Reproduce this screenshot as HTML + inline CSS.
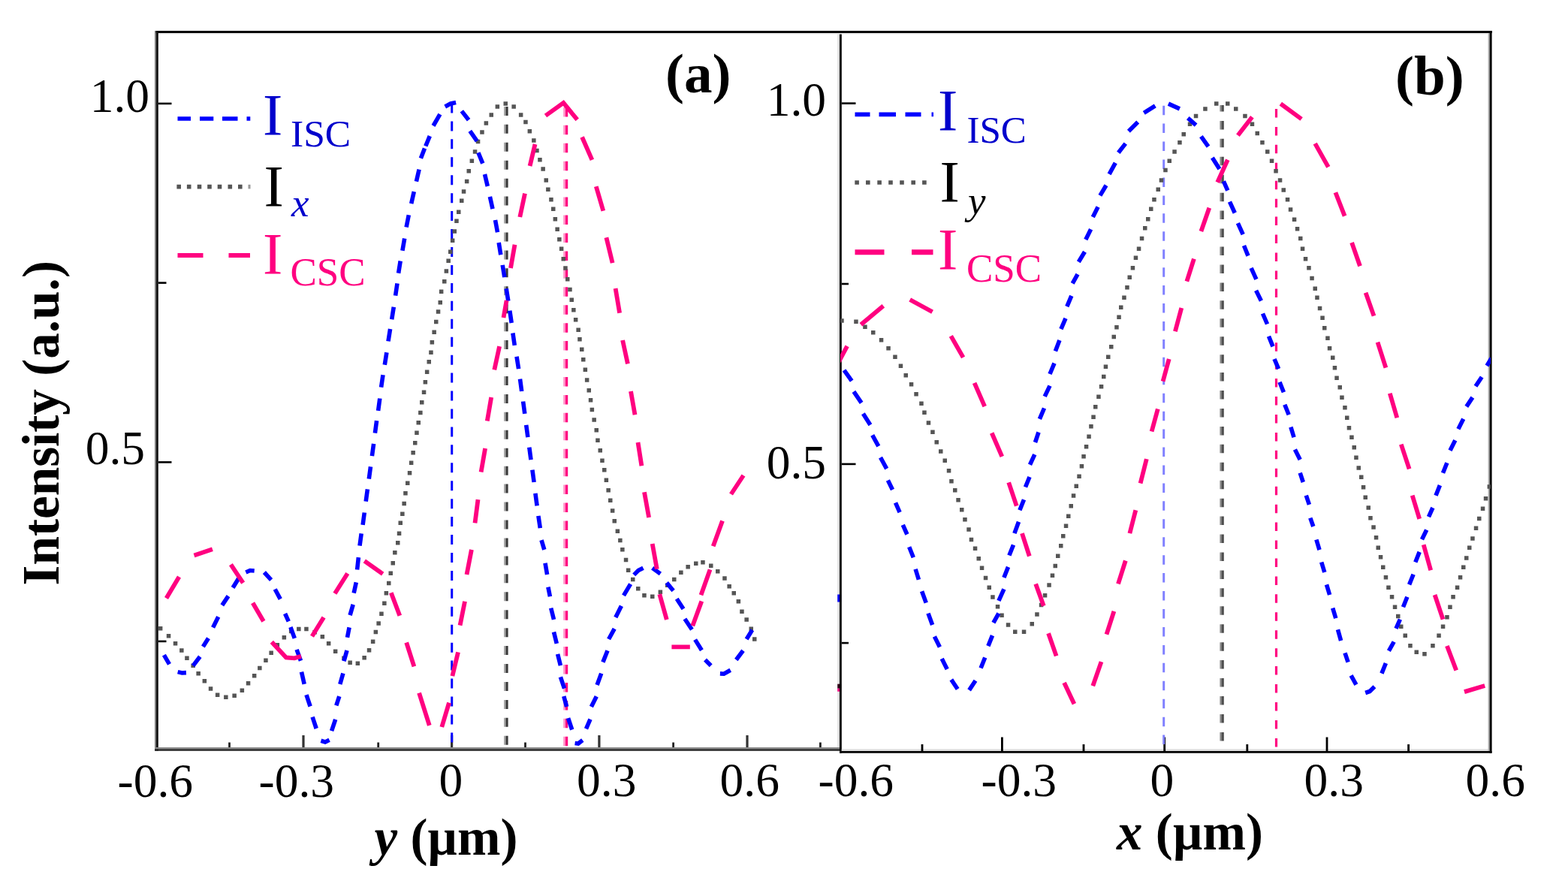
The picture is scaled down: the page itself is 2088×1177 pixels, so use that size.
<!DOCTYPE html>
<html><head><meta charset="utf-8"><title>Intensity profiles</title>
<style>html,body{margin:0;padding:0;background:#fff;}svg{display:block;}</style>
</head><body>
<svg width="2088" height="1177" viewBox="0 0 2088 1177">
<defs><clipPath id="cb"><rect x="1119" y="40" width="866" height="962"/></clipPath><clipPath id="ca"><rect x="209" y="40" width="910" height="958"/></clipPath></defs>
<rect width="2088" height="1177" fill="#fff"/>
<rect x="206" y="41" width="1781" height="3" fill="#000"/>
<rect x="206" y="41" width="1.8" height="959" fill="#808080"/>
<rect x="207.8" y="41" width="3" height="959" fill="#111"/>
<rect x="206" y="995" width="912" height="2.2" fill="#8a8a8a"/>
<rect x="206" y="997.2" width="912" height="2.6" fill="#2a2a2a"/>
<rect x="1115.4" y="44" width="2.6" height="951" fill="#dcdcdc"/>
<rect x="1118" y="41" width="2.8" height="961.7" fill="#000"/>
<rect x="1120.8" y="997.4" width="862" height="2.6" fill="#dcdcdc"/>
<rect x="1118" y="1000" width="868.5" height="2.7" fill="#000"/>
<rect x="1981.6" y="44" width="2" height="956" fill="#b0b0b0"/>
<rect x="1983.6" y="41" width="3" height="961.7" fill="#000"/>
<rect x="211" y="44" width="1770" height="1.6" fill="#e6e6e6"/>
<line x1="210.8" y1="137.9" x2="228.5" y2="137.9" stroke="#000" stroke-width="2.6"/>
<line x1="210.8" y1="376.6" x2="221.5" y2="376.6" stroke="#000" stroke-width="2.6"/>
<line x1="210.8" y1="615.4" x2="228.5" y2="615.4" stroke="#000" stroke-width="2.6"/>
<line x1="210.8" y1="853.9" x2="221.5" y2="853.9" stroke="#000" stroke-width="2.6"/>
<line x1="1120.8" y1="137.6" x2="1139.5" y2="137.6" stroke="#000" stroke-width="2.6"/>
<line x1="1120.8" y1="378" x2="1130" y2="378" stroke="#000" stroke-width="2.6"/>
<line x1="1120.8" y1="617.9" x2="1139.5" y2="617.9" stroke="#000" stroke-width="2.6"/>
<line x1="1120.8" y1="856.1" x2="1130" y2="856.1" stroke="#000" stroke-width="2.6"/>
<line x1="404" y1="979" x2="404" y2="995" stroke="#333" stroke-width="3.2"/>
<line x1="601.6" y1="979" x2="601.6" y2="995" stroke="#333" stroke-width="3.2"/>
<line x1="797.9" y1="979" x2="797.9" y2="995" stroke="#333" stroke-width="3.2"/>
<line x1="995" y1="979" x2="995" y2="995" stroke="#333" stroke-width="3.2"/>
<line x1="305.5" y1="988.5" x2="305.5" y2="995" stroke="#222" stroke-width="2.8"/>
<line x1="503.7" y1="988.5" x2="503.7" y2="995" stroke="#222" stroke-width="2.8"/>
<line x1="699.5" y1="988.5" x2="699.5" y2="995" stroke="#222" stroke-width="2.8"/>
<line x1="896.6" y1="988.5" x2="896.6" y2="995" stroke="#222" stroke-width="2.8"/>
<line x1="1092.4" y1="988.5" x2="1092.4" y2="995" stroke="#222" stroke-width="2.8"/>
<line x1="1334.4" y1="981.5" x2="1334.4" y2="1000" stroke="#000" stroke-width="2.8"/>
<line x1="1550.7" y1="981.5" x2="1550.7" y2="1000" stroke="#000" stroke-width="2.8"/>
<line x1="1767" y1="981.5" x2="1767" y2="1000" stroke="#000" stroke-width="2.8"/>
<line x1="1228" y1="991" x2="1228" y2="1000" stroke="#000" stroke-width="2.8"/>
<line x1="1443" y1="991" x2="1443" y2="1000" stroke="#000" stroke-width="2.8"/>
<line x1="1660.8" y1="991" x2="1660.8" y2="1000" stroke="#000" stroke-width="2.8"/>
<line x1="1875.6" y1="991" x2="1875.6" y2="1000" stroke="#000" stroke-width="2.8"/>
<text x="199" y="149" font-family="Liberation Serif, serif" font-size="63.5" text-anchor="end" font-weight="normal" font-style="normal" fill="#000" >1.0</text>
<text x="193" y="618" font-family="Liberation Serif, serif" font-size="63.5" text-anchor="end" font-weight="normal" font-style="normal" fill="#000" >0.5</text>
<text x="1100" y="154" font-family="Liberation Serif, serif" font-size="63.5" text-anchor="end" font-weight="normal" font-style="normal" fill="#000" >1.0</text>
<text x="1100" y="636.5" font-family="Liberation Serif, serif" font-size="63.5" text-anchor="end" font-weight="normal" font-style="normal" fill="#000" >0.5</text>
<text x="156.5" y="1061" font-family="Liberation Serif, serif" font-size="63.5" text-anchor="start" font-weight="normal" font-style="normal" fill="#000" >-0.6</text>
<text x="344.5" y="1061" font-family="Liberation Serif, serif" font-size="63.5" text-anchor="start" font-weight="normal" font-style="normal" fill="#000" >-0.3</text>
<text x="584.5" y="1060" font-family="Liberation Serif, serif" font-size="63.5" text-anchor="start" font-weight="normal" font-style="normal" fill="#000" >0</text>
<text x="768" y="1060" font-family="Liberation Serif, serif" font-size="63.5" text-anchor="start" font-weight="normal" font-style="normal" fill="#000" >0.3</text>
<text x="958.5" y="1060" font-family="Liberation Serif, serif" font-size="63.5" text-anchor="start" font-weight="normal" font-style="normal" fill="#000" >0.6</text>
<text x="1089.5" y="1060" font-family="Liberation Serif, serif" font-size="63.5" text-anchor="start" font-weight="normal" font-style="normal" fill="#000" >-0.6</text>
<text x="1306.5" y="1060" font-family="Liberation Serif, serif" font-size="63.5" text-anchor="start" font-weight="normal" font-style="normal" fill="#000" >-0.3</text>
<text x="1531.5" y="1060" font-family="Liberation Serif, serif" font-size="63.5" text-anchor="start" font-weight="normal" font-style="normal" fill="#000" >0</text>
<text x="1736.5" y="1060" font-family="Liberation Serif, serif" font-size="63.5" text-anchor="start" font-weight="normal" font-style="normal" fill="#000" >0.3</text>
<text x="1951.5" y="1060" font-family="Liberation Serif, serif" font-size="63.5" text-anchor="start" font-weight="normal" font-style="normal" fill="#000" >0.6</text>
<text x="498.5" y="1138" font-family="Liberation Serif, serif" font-size="69" font-weight="bold"><tspan font-style="italic">y</tspan> (µm)</text>
<text x="1487" y="1131" font-family="Liberation Serif, serif" font-size="69" font-weight="bold"><tspan font-style="italic">x</tspan> (µm)</text>
<text transform="translate(77.5,779.5) rotate(-90)" x="0" y="0" font-family="Liberation Serif, serif" font-size="69.2" font-weight="bold">Intensity (a.u.)</text>
<text x="886" y="123" font-family="Liberation Serif, serif" font-size="75" text-anchor="start" font-weight="bold" font-style="normal" fill="#000" >(a)</text>
<text x="1858" y="126" font-family="Liberation Serif, serif" font-size="75" text-anchor="start" font-weight="bold" font-style="normal" fill="#000" >(b)</text>
<path d="M236.5,158H254M266,158H284.3M296,158H316.5M328.5,158H333.3" stroke="#0000ff" stroke-width="5.6" fill="none"/>
<path d="M235.4,245.8h5.6v5.6h-5.6zM248.9,245.8h5.6v5.6h-5.6zM262.7,245.8h5.6v5.6h-5.6zM276.2,245.8h5.6v5.6h-5.6zM289.7,245.8h5.6v5.6h-5.6zM303.5,245.8h5.6v5.6h-5.6zM317.0,245.8h5.6v5.6h-5.6z" fill="#555555"/>
<rect x="330.5" y="245.8" width="3" height="5.6" fill="#555555" opacity="0.6"/>
<path d="M236.5,340H270.5M304.5,340H333" stroke="#ff0080" stroke-width="6" fill="none"/>
<path d="M1138.5,152.3H1158.5M1170.5,152.3H1193M1205.5,152.3H1226.5M1240.5,152.3H1243" stroke="#0000ff" stroke-width="5.8" fill="none"/>
<path d="M1138.3,240.2h5.6v5.6h-5.6zM1153.0,240.2h5.6v5.6h-5.6zM1168.3,240.2h5.6v5.6h-5.6zM1183.2,240.2h5.6v5.6h-5.6zM1198.2,240.2h5.6v5.6h-5.6zM1213.4,240.2h5.6v5.6h-5.6zM1228.1,240.2h5.6v5.6h-5.6z" fill="#555555"/>
<path d="M1138.5,335.8H1177.5M1214,335.8H1242.5" stroke="#ff0080" stroke-width="7" fill="none"/>
<text x="350" y="178.5" font-family="Liberation Serif, serif" font-size="79" fill="#0000cc">I</text>
<text x="387" y="194.5" font-family="Liberation Serif, serif" font-size="51.5" fill="#0000cc" font-style="normal">ISC</text>
<text x="351.5" y="273.5" font-family="Liberation Serif, serif" font-size="79" fill="#000">I</text>
<text x="388" y="287.5" font-family="Liberation Serif, serif" font-size="53" fill="#0000cc" font-style="italic">x</text>
<text x="350" y="363.5" font-family="Liberation Serif, serif" font-size="79" fill="#ff0080">I</text>
<text x="386.5" y="380" font-family="Liberation Serif, serif" font-size="53" fill="#ff0080" font-style="normal">CSC</text>
<text x="1249" y="172.5" font-family="Liberation Serif, serif" font-size="79" fill="#0000cc">I</text>
<text x="1287.5" y="189.5" font-family="Liberation Serif, serif" font-size="51" fill="#0000cc" font-style="normal">ISC</text>
<text x="1251.5" y="268" font-family="Liberation Serif, serif" font-size="79" fill="#000">I</text>
<text x="1289" y="284.5" font-family="Liberation Serif, serif" font-size="53" fill="#000" font-style="italic">y</text>
<text x="1249" y="357.5" font-family="Liberation Serif, serif" font-size="79" fill="#ff0080">I</text>
<text x="1287" y="375" font-family="Liberation Serif, serif" font-size="53" fill="#ff0080" font-style="normal">CSC</text>
<line x1="601.7" y1="140" x2="601.7" y2="993.5" stroke="#0000ff" stroke-width="3" stroke-dasharray="13 10.94" stroke-dashoffset="2.52"/>
<line x1="672.2" y1="140" x2="672.2" y2="993.5" stroke="#a8a8a8" stroke-width="2.4" stroke-dasharray="12 11.94" stroke-dashoffset="22.06"/>
<line x1="675.0" y1="140" x2="675.0" y2="993.5" stroke="#3a3a3a" stroke-width="3.2" stroke-dasharray="12 11.94" stroke-dashoffset="22.06"/>
<line x1="751.6" y1="143" x2="751.6" y2="993.5" stroke="#ff8cc4" stroke-width="2.6" stroke-dasharray="12.5 11.44" stroke-dashoffset="0.12"/>
<line x1="754.6" y1="143" x2="754.6" y2="993.5" stroke="#ff0080" stroke-width="3.2" stroke-dasharray="12.5 11.44" stroke-dashoffset="0.12"/>
<line x1="1549.7" y1="140" x2="1549.7" y2="997" stroke="#8080ff" stroke-width="3" stroke-dasharray="12.5 11.44" stroke-dashoffset="23.26"/>
<line x1="1625.7" y1="140" x2="1625.7" y2="997" stroke="#8a8a8a" stroke-width="2.6" stroke-dasharray="11.5 12.44" stroke-dashoffset="3.02"/>
<line x1="1628.3" y1="140" x2="1628.3" y2="997" stroke="#4e4e4e" stroke-width="3.0" stroke-dasharray="11.5 12.44" stroke-dashoffset="3.02"/>
<line x1="1699.5" y1="140" x2="1699.5" y2="997" stroke="#ff0080" stroke-width="3.2" stroke-dasharray="11.5 12.44" stroke-dashoffset="18.96"/>
<path d="M210.9,834.0h5.5v5.5h-5.5zM221.8,844.0h5.5v5.5h-5.5zM230.8,854.1h5.5v5.5h-5.5zM239.1,863.2h5.5v5.5h-5.5zM246.2,873.5h5.5v5.5h-5.5zM254.4,883.6h5.5v5.5h-5.5zM261.4,893.9h5.5v5.5h-5.5zM269.6,904.0h5.5v5.5h-5.5zM277.8,914.2h5.5v5.5h-5.5zM286.9,922.5h5.5v5.5h-5.5zM298.1,925.5h5.5v5.5h-5.5zM309.4,923.5h5.5v5.5h-5.5zM319.6,916.4h5.5v5.5h-5.5zM327.8,907.1h5.5v5.5h-5.5zM335.9,897.0h5.5v5.5h-5.5zM343.1,886.8h5.5v5.5h-5.5zM351.2,876.5h5.5v5.5h-5.5zM358.4,866.4h5.5v5.5h-5.5zM366.6,856.1h5.5v5.5h-5.5zM375.6,846.0h5.5v5.5h-5.5zM384.9,837.8h5.5v5.5h-5.5zM395.1,834.8h5.5v5.5h-5.5zM405.2,834.8h5.5v5.5h-5.5zM416.4,838.9h5.5v5.5h-5.5zM426.6,845.0h5.5v5.5h-5.5zM434.9,854.1h5.5v5.5h-5.5zM443.9,864.4h5.5v5.5h-5.5zM455.2,873.5h5.5v5.5h-5.5zM463.4,879.5h5.5v5.5h-5.5zM473.6,880.6h5.5v5.5h-5.5zM482.4,873.1h5.5v5.5h-5.5zM488.8,863.0h5.5v5.5h-5.5zM493.9,851.5h5.5v5.5h-5.5zM497.6,838.8h5.5v5.5h-5.5zM501.4,827.2h5.5v5.5h-5.5zM505.2,814.5h5.5v5.5h-5.5zM509.1,800.5h5.5v5.5h-5.5zM511.6,787.0h5.5v5.5h-5.5zM515.0,773.8h5.5v5.5h-5.5zM517.5,760.5h5.5v5.5h-5.5zM520.5,747.0h5.5v5.5h-5.5zM523.1,733.0h5.5v5.5h-5.5zM527.0,720.1h5.5v5.5h-5.5zM528.8,707.5h5.5v5.5h-5.5zM530.5,693.6h5.5v5.5h-5.5zM533.1,681.4h5.5v5.5h-5.5zM535.4,667.8h5.5v5.5h-5.5zM537.2,654.1h5.5v5.5h-5.5zM540.0,640.5h5.5v5.5h-5.5zM542.8,627.0h5.5v5.5h-5.5zM544.9,613.5h5.5v5.5h-5.5zM547.4,599.9h5.5v5.5h-5.5zM550.0,587.0h5.5v5.5h-5.5zM552.2,573.5h5.5v5.5h-5.5zM554.5,559.9h5.5v5.5h-5.5zM557.1,546.8h5.5v5.5h-5.5zM559.0,533.1h5.5v5.5h-5.5zM561.8,519.5h5.5v5.5h-5.5zM563.6,506.1h5.5v5.5h-5.5zM565.9,492.4h5.5v5.5h-5.5zM568.5,478.9h5.5v5.5h-5.5zM571.2,466.6h5.5v5.5h-5.5zM572.6,452.9h5.5v5.5h-5.5zM575.4,439.4h5.5v5.5h-5.5zM578.0,425.8h5.5v5.5h-5.5zM580.8,412.2h5.5v5.5h-5.5zM583.5,399.9h5.5v5.5h-5.5zM584.9,385.4h5.5v5.5h-5.5zM589.0,371.9h5.5v5.5h-5.5zM591.6,358.2h5.5v5.5h-5.5zM594.4,344.6h5.5v5.5h-5.5zM597.0,332.4h5.5v5.5h-5.5zM599.9,317.4h5.5v5.5h-5.5zM602.5,305.2h5.5v5.5h-5.5zM605.2,291.6h5.5v5.5h-5.5zM608.0,279.4h5.5v5.5h-5.5zM612.0,264.4h5.5v5.5h-5.5zM614.8,252.2h5.5v5.5h-5.5zM618.9,238.7h5.5v5.5h-5.5zM621.5,225.1h5.5v5.5h-5.5zM625.6,211.4h5.5v5.5h-5.5zM629.8,199.2h5.5v5.5h-5.5zM633.8,185.7h5.5v5.5h-5.5zM639.2,173.3h5.5v5.5h-5.5zM644.6,161.2h5.5v5.5h-5.5zM651.5,150.2h5.5v5.5h-5.5zM659.6,139.3h5.5v5.5h-5.5zM670.5,135.3h5.5v5.5h-5.5zM681.4,139.3h5.5v5.5h-5.5zM690.9,150.2h5.5v5.5h-5.5zM697.2,159.8h5.5v5.5h-5.5zM702.6,172.1h5.5v5.5h-5.5zM708.1,184.2h5.5v5.5h-5.5zM712.2,197.8h5.5v5.5h-5.5zM716.2,210.1h5.5v5.5h-5.5zM720.4,222.3h5.5v5.5h-5.5zM724.5,237.2h5.5v5.5h-5.5zM727.1,249.6h5.5v5.5h-5.5zM731.2,263.1h5.5v5.5h-5.5zM734.0,275.4h5.5v5.5h-5.5zM736.6,288.9h5.5v5.5h-5.5zM739.4,302.6h5.5v5.5h-5.5zM742.1,316.1h5.5v5.5h-5.5zM744.9,328.4h5.5v5.5h-5.5zM747.5,341.9h5.5v5.5h-5.5zM750.2,354.2h5.5v5.5h-5.5zM753.0,369.1h5.5v5.5h-5.5zM756.2,382.8h5.5v5.5h-5.5zM758.5,396.4h5.5v5.5h-5.5zM761.1,409.9h5.5v5.5h-5.5zM763.9,423.1h5.5v5.5h-5.5zM767.4,436.6h5.5v5.5h-5.5zM769.2,448.9h5.5v5.5h-5.5zM772.0,462.6h5.5v5.5h-5.5zM774.0,476.1h5.5v5.5h-5.5zM776.6,489.6h5.5v5.5h-5.5zM778.9,503.2h5.5v5.5h-5.5zM781.5,516.9h5.5v5.5h-5.5zM783.8,530.0h5.5v5.5h-5.5zM785.6,542.8h5.5v5.5h-5.5zM788.4,556.2h5.5v5.5h-5.5zM791.5,569.9h5.5v5.5h-5.5zM793.2,583.5h5.5v5.5h-5.5zM796.5,597.0h5.5v5.5h-5.5zM799.2,610.6h5.5v5.5h-5.5zM802.0,623.0h5.5v5.5h-5.5zM804.6,636.5h5.5v5.5h-5.5zM807.4,650.1h5.5v5.5h-5.5zM810.0,663.6h5.5v5.5h-5.5zM812.9,677.2h5.5v5.5h-5.5zM815.5,690.9h5.5v5.5h-5.5zM819.6,704.5h5.5v5.5h-5.5zM823.1,716.8h5.5v5.5h-5.5zM826.1,729.0h5.5v5.5h-5.5zM830.8,742.8h5.5v5.5h-5.5zM833.9,756.5h5.5v5.5h-5.5zM840.0,768.8h5.5v5.5h-5.5zM847.0,781.0h5.5v5.5h-5.5zM855.2,790.1h5.5v5.5h-5.5zM866.0,791.6h5.5v5.5h-5.5zM876.6,785.5h5.5v5.5h-5.5zM885.9,776.4h5.5v5.5h-5.5zM895.0,768.8h5.5v5.5h-5.5zM904.1,759.5h5.5v5.5h-5.5zM913.4,752.0h5.5v5.5h-5.5zM924.0,747.4h5.5v5.5h-5.5zM933.2,745.9h5.5v5.5h-5.5zM944.0,750.4h5.5v5.5h-5.5zM953.0,758.0h5.5v5.5h-5.5zM962.2,767.2h5.5v5.5h-5.5zM968.4,778.0h5.5v5.5h-5.5zM974.5,787.0h5.5v5.5h-5.5zM980.6,797.9h5.5v5.5h-5.5zM985.2,811.5h5.5v5.5h-5.5zM991.4,822.2h5.5v5.5h-5.5zM997.5,834.5h5.5v5.5h-5.5zM1002.0,848.2h5.5v5.5h-5.5z" fill="#555555" clip-path="url(#ca)"/>
<path d="M1118.2,424.2h5.5v5.5h-5.5zM1137.2,425.6h5.5v5.5h-5.5zM1149.2,432.4h5.5v5.5h-5.5zM1160.0,440.1h5.5v5.5h-5.5zM1170.8,449.9h5.5v5.5h-5.5zM1180.3,460.9h5.5v5.5h-5.5zM1189.2,472.4h5.5v5.5h-5.5zM1196.7,484.6h5.5v5.5h-5.5zM1203.5,496.9h5.5v5.5h-5.5zM1210.8,508.9h5.5v5.5h-5.5zM1217.3,522.1h5.5v5.5h-5.5zM1224.2,534.4h5.5v5.5h-5.5zM1228.2,546.6h5.5v5.5h-5.5zM1233.7,560.2h5.5v5.5h-5.5zM1239.2,572.5h5.5v5.5h-5.5zM1244.5,586.0h5.5v5.5h-5.5zM1250.0,598.2h5.5v5.5h-5.5zM1255.5,610.5h5.5v5.5h-5.5zM1260.8,624.0h5.5v5.5h-5.5zM1264.2,638.1h5.5v5.5h-5.5zM1269.0,649.9h5.5v5.5h-5.5zM1273.3,663.0h5.5v5.5h-5.5zM1278.0,676.0h5.5v5.5h-5.5zM1282.2,689.1h5.5v5.5h-5.5zM1287.3,702.2h5.5v5.5h-5.5zM1290.7,715.8h5.5v5.5h-5.5zM1295.8,727.5h5.5v5.5h-5.5zM1300.5,741.0h5.5v5.5h-5.5zM1304.8,753.5h5.5v5.5h-5.5zM1309.8,766.8h5.5v5.5h-5.5zM1314.5,779.6h5.5v5.5h-5.5zM1319.2,792.2h5.5v5.5h-5.5zM1325.8,804.9h5.5v5.5h-5.5zM1331.3,816.6h5.5v5.5h-5.5zM1339.8,829.2h5.5v5.5h-5.5zM1349.0,838.5h5.5v5.5h-5.5zM1360.8,838.5h5.5v5.5h-5.5zM1371.5,827.9h5.5v5.5h-5.5zM1378.2,815.2h5.5v5.5h-5.5zM1383.8,802.8h5.5v5.5h-5.5zM1388.8,790.0h5.5v5.5h-5.5zM1394.3,776.2h5.5v5.5h-5.5zM1398.7,763.5h5.5v5.5h-5.5zM1402.5,750.8h5.5v5.5h-5.5zM1406.0,737.4h5.5v5.5h-5.5zM1410.0,724.1h5.5v5.5h-5.5zM1413.0,710.9h5.5v5.5h-5.5zM1416.8,697.5h5.5v5.5h-5.5zM1420.0,684.4h5.5v5.5h-5.5zM1423.5,670.9h5.5v5.5h-5.5zM1426.8,657.2h5.5v5.5h-5.5zM1430.5,644.5h5.5v5.5h-5.5zM1434.3,631.5h5.5v5.5h-5.5zM1437.7,617.9h5.5v5.5h-5.5zM1440.3,605.0h5.5v5.5h-5.5zM1443.8,592.0h5.5v5.5h-5.5zM1447.3,578.5h5.5v5.5h-5.5zM1450.2,564.9h5.5v5.5h-5.5zM1453.3,552.6h5.5v5.5h-5.5zM1456.0,539.0h5.5v5.5h-5.5zM1460.2,525.5h5.5v5.5h-5.5zM1463.8,511.9h5.5v5.5h-5.5zM1467.0,498.8h5.5v5.5h-5.5zM1469.7,485.4h5.5v5.5h-5.5zM1473.0,472.4h5.5v5.5h-5.5zM1477.0,458.9h5.5v5.5h-5.5zM1480.5,445.8h5.5v5.5h-5.5zM1484.2,432.9h5.5v5.5h-5.5zM1487.3,419.4h5.5v5.5h-5.5zM1490.0,406.6h5.5v5.5h-5.5zM1494.2,393.6h5.5v5.5h-5.5zM1498.2,379.9h5.5v5.5h-5.5zM1501.5,366.4h5.5v5.5h-5.5zM1505.7,354.1h5.5v5.5h-5.5zM1509.7,340.6h5.5v5.5h-5.5zM1513.8,328.4h5.5v5.5h-5.5zM1517.8,314.8h5.5v5.5h-5.5zM1522.0,301.1h5.5v5.5h-5.5zM1526.0,288.9h5.5v5.5h-5.5zM1530.0,275.4h5.5v5.5h-5.5zM1534.2,263.1h5.5v5.5h-5.5zM1539.5,249.6h5.5v5.5h-5.5zM1543.7,237.2h5.5v5.5h-5.5zM1549.2,223.7h5.5v5.5h-5.5zM1554.5,211.4h5.5v5.5h-5.5zM1561.3,199.2h5.5v5.5h-5.5zM1568.2,186.9h5.5v5.5h-5.5zM1573.5,176.1h5.5v5.5h-5.5zM1581.8,162.6h5.5v5.5h-5.5zM1589.8,151.7h5.5v5.5h-5.5zM1602.2,142.2h5.5v5.5h-5.5zM1617.0,135.3h5.5v5.5h-5.5zM1632.0,135.3h5.5v5.5h-5.5zM1643.0,142.2h5.5v5.5h-5.5zM1655.2,151.7h5.5v5.5h-5.5zM1664.7,162.6h5.5v5.5h-5.5zM1671.5,174.8h5.5v5.5h-5.5zM1678.2,186.9h5.5v5.5h-5.5zM1685.0,199.2h5.5v5.5h-5.5zM1690.8,211.4h5.5v5.5h-5.5zM1696.3,225.1h5.5v5.5h-5.5zM1701.8,237.2h5.5v5.5h-5.5zM1706.5,250.2h5.5v5.5h-5.5zM1711.8,263.1h5.5v5.5h-5.5zM1715.8,276.2h5.5v5.5h-5.5zM1720.8,289.6h5.5v5.5h-5.5zM1724.8,301.9h5.5v5.5h-5.5zM1729.0,314.8h5.5v5.5h-5.5zM1731.8,328.4h5.5v5.5h-5.5zM1735.8,341.9h5.5v5.5h-5.5zM1740.2,354.1h5.5v5.5h-5.5zM1744.3,367.8h5.5v5.5h-5.5zM1748.5,381.4h5.5v5.5h-5.5zM1751.2,393.6h5.5v5.5h-5.5zM1754.8,407.8h5.5v5.5h-5.5zM1758.3,420.4h5.5v5.5h-5.5zM1761.0,433.9h5.5v5.5h-5.5zM1765.2,447.6h5.5v5.5h-5.5zM1767.8,461.1h5.5v5.5h-5.5zM1772.0,473.4h5.5v5.5h-5.5zM1774.7,486.9h5.5v5.5h-5.5zM1777.3,500.6h5.5v5.5h-5.5zM1781.5,512.9h5.5v5.5h-5.5zM1784.2,526.4h5.5v5.5h-5.5zM1788.2,540.0h5.5v5.5h-5.5zM1791.0,553.5h5.5v5.5h-5.5zM1793.7,567.1h5.5v5.5h-5.5zM1797.2,579.5h5.5v5.5h-5.5zM1800.5,593.0h5.5v5.5h-5.5zM1803.2,606.6h5.5v5.5h-5.5zM1806.5,620.2h5.5v5.5h-5.5zM1810.0,632.5h5.5v5.5h-5.5zM1812.8,646.0h5.5v5.5h-5.5zM1815.5,659.6h5.5v5.5h-5.5zM1819.5,673.2h5.5v5.5h-5.5zM1822.2,686.9h5.5v5.5h-5.5zM1826.3,699.2h5.5v5.5h-5.5zM1829.8,712.9h5.5v5.5h-5.5zM1832.5,726.6h5.5v5.5h-5.5zM1835.8,739.0h5.5v5.5h-5.5zM1839.0,752.5h5.5v5.5h-5.5zM1842.7,766.0h5.5v5.5h-5.5zM1846.2,779.6h5.5v5.5h-5.5zM1850.8,792.0h5.5v5.5h-5.5zM1854.8,805.5h5.5v5.5h-5.5zM1859.0,817.8h5.5v5.5h-5.5zM1863.0,831.4h5.5v5.5h-5.5zM1868.5,843.5h5.5v5.5h-5.5zM1875.2,857.1h5.5v5.5h-5.5zM1883.5,865.4h5.5v5.5h-5.5zM1894.2,868.0h5.5v5.5h-5.5zM1905.2,857.1h5.5v5.5h-5.5zM1913.3,843.5h5.5v5.5h-5.5zM1918.8,831.4h5.5v5.5h-5.5zM1924.2,819.1h5.5v5.5h-5.5zM1928.2,805.5h5.5v5.5h-5.5zM1932.3,792.0h5.5v5.5h-5.5zM1937.8,779.6h5.5v5.5h-5.5zM1941.8,766.0h5.5v5.5h-5.5zM1946.0,752.5h5.5v5.5h-5.5zM1950.0,740.2h5.5v5.5h-5.5zM1954.0,726.6h5.5v5.5h-5.5zM1958.2,714.2h5.5v5.5h-5.5zM1962.8,700.6h5.5v5.5h-5.5zM1967.0,687.8h5.5v5.5h-5.5zM1971.8,674.5h5.5v5.5h-5.5zM1975.8,661.0h5.5v5.5h-5.5zM1980.6,645.3h5.5v5.5h-5.5z" fill="#555555" clip-path="url(#cb)"/>
<path d="M218.4,872.2 L225.5,884.4M236.7,894.6 L242.3,896.0 L247.9,895.6M257.1,886.4 L266.3,874.2M270.4,861.0 L277.5,849.7M283.6,835.4 L290.7,821.2M295.8,805.9 L304.0,793.6M310.1,782.4 L318.3,769.2M327.4,762.0 L333.0,759.5 L338.7,760.0M351.9,762.0 L361.1,772.2M366.2,784.5 L373.3,797.7M379.6,817.0 L384.3,827.3M386.9,835.0 L392.3,849.9M395.1,864.9 L400.5,879.8M401.5,894.6 L405.2,910.9M408.0,925.2 L413.1,940.5M416.1,954.7 L421.2,970.0M427.4,986.3 L433.0,988.0 L438.6,985.3M441.6,973.1 L446.7,957.8M447.8,939.4 L451.8,927.2M452.8,910.9 L456.9,896.6M458.0,880.3 L462.0,866.0M462.5,848.7 L465.1,835.4M466.1,819.1 L470.2,804.9M471.2,789.6 L474.3,775.3M475.6,758.5 L477.4,742.1M479.0,726.7 L481.2,710.3M483.1,698.9 L485.3,682.5M487.2,667.7 L489.4,651.3M491.3,637.7 L493.5,621.3M495.4,607.2 L497.6,590.8M499.4,576.6 L501.6,560.2M503.6,546.9 L505.8,530.5M507.6,515.6 L510.0,499.2M512.3,485.7 L514.9,469.3M517.0,454.4 L519.6,438.0M521.7,425.2 L524.3,408.8M526.6,393.7 L529.0,377.3M530.6,363.7 L533.2,347.5M535.9,333.8 L538.7,317.6M541.1,302.5 L544.3,286.3M547.7,271.1 L551.3,255.1M554.4,241.7 L558.1,225.6M560.4,210.8 L565.5,197.5M566.8,194.5 L572.3,181.1M577.0,167.5 L585.9,152.2M592.7,142.0 L600.0,138.0 L607.1,136.5M614.8,147.9 L624.1,159.8M625.8,174.3 L635.2,187.9M636.9,203.2 L642.8,217.6M645.5,232.0 L649.3,248.0M652.4,261.9 L656.0,278.1M659.5,293.1 L662.5,309.3M664.2,323.0 L666.8,339.2M669.2,352.9 L671.8,369.1M674.2,384.3 L676.8,400.7M678.8,413.6 L681.2,430.0M682.9,443.5 L685.3,459.9M688.0,474.7 L690.6,491.1M692.5,504.6 L694.7,521.0M696.6,534.5 L698.8,550.9M700.7,565.8 L702.9,582.2M704.8,595.7 L707.0,612.1M708.9,625.6 L711.1,642.0M712.9,656.9 L715.1,673.3M716.9,686.8 L719.3,703.2M721.0,719.1 L724.8,731.9M726.0,749.7 L728.6,765.0M729.9,781.6 L732.4,794.3M733.7,809.6 L737.5,824.9M737.5,841.5 L741.3,856.8M742.6,870.8 L746.4,886.1M746.4,901.4 L751.5,916.7M750.8,926.9 L754.6,941.0M756.6,956.2 L761.7,971.5M765.6,989.4 L770.0,990.0 L775.8,985.6M780.5,970.3 L786.0,957.7M787.4,941.1 L794.3,927.2M795.1,912.0 L800.7,896.6M802.9,881.6 L809.0,866.3M810.6,851.0 L818.2,837.2M819.8,822.0 L827.4,806.7M830.5,792.9 L839.6,777.6M844.2,765.4 L850.0,759.5 L856.5,756.2M868.7,756.2 L879.4,763.9M887.8,775.9 L896.6,786.5M901.2,797.2 L910.0,810.8M911.9,824.0 L921.4,838.3M925.6,851.6 L934.4,865.8M939.0,878.5 L946.7,886.2M958.9,896.9 L964.0,897.2 L972.7,892.3M980.3,878.5 L989.5,866.3M994.1,851.0 L1001.7,838.8" fill="none" stroke="#0000ff" stroke-width="5.6" stroke-linejoin="miter" stroke-linecap="butt" clip-path="url(#ca)"/>
<path d="M1124.0,492.8 L1134.2,507.1M1136.9,521.4 L1147.1,536.3M1149.4,550.7 L1158.9,565.7M1161.7,579.3 L1169.8,594.2M1172.5,609.2 L1180.7,624.1M1182.4,639.5 L1188.5,652.0M1192.5,669.4 L1198.1,682.1M1202.3,698.9 L1207.9,711.5M1210.7,728.3 L1216.3,742.3M1219.1,757.7 L1223.4,771.8M1227.6,787.2 L1233.2,802.6M1236.0,816.6 L1241.6,832.0M1244.4,847.5 L1251.4,861.5M1254.2,876.9 L1261.2,890.9M1266.8,904.9 L1275.2,917.5M1290.6,918.9 L1299.0,906.3M1306.1,889.5 L1311.7,875.5M1315.9,860.1 L1321.5,846.1M1322.9,829.2 L1329.9,816.6M1329.9,799.8 L1336.9,784.4M1336.9,769.0 L1342.5,754.9M1343.9,739.5 L1349.5,725.5M1350.9,710.1 L1356.5,694.7M1357.9,679.2 L1363.5,665.2M1365.5,648.5 L1371.0,635.0M1371.5,618.7 L1377.8,605.1M1378.5,589.0 L1383.0,575.5M1384.4,557.8 L1390.5,543.5M1391.2,527.9 L1398.0,513.6M1398.0,498.0 L1404.0,483.7M1405.4,467.4 L1410.9,453.1M1412.9,438.2 L1419.0,423.9M1420.8,408.1 L1426.8,393.8M1428.2,377.3 L1435.0,365.1M1436.3,348.8 L1444.5,335.2M1445.8,318.9 L1452.6,305.3M1455.3,289.0 L1462.1,275.4M1464.9,260.4 L1473.0,246.8M1477.1,231.9 L1485.3,216.9M1489.3,203.3 L1498.8,191.1M1502.9,174.8 L1515.2,162.5M1523.3,150.3 L1538.3,140.8M1555.9,138.1 L1570.9,144.9M1581.8,157.1 L1592.6,166.6M1599.4,181.6 L1609.0,195.2M1614.4,210.1 L1623.9,225.1M1629.4,241.4 L1634.8,253.6M1637.5,268.6 L1644.3,283.5M1648.4,297.1 L1655.2,312.1M1656.5,327.0 L1662.0,340.6M1666.1,356.9 L1672.9,371.9M1672.6,386.8 L1679.4,400.4M1681.5,417.5 L1687.5,431.5M1689.5,447.8 L1695.0,461.4M1697.0,478.0 L1702.6,491.1M1704.0,508.8 L1709.4,522.3M1710.8,538.7 L1716.2,552.3M1718.9,568.6 L1723.0,582.2M1724.4,598.5 L1731.2,612.1M1731.2,629.7 L1735.3,642.0M1739.3,659.7 L1743.4,671.9M1744.8,689.6 L1748.8,701.0M1752.9,718.5 L1757.0,732.1M1759.7,748.5 L1763.8,762.0M1766.5,778.4 L1770.6,792.0M1774.7,809.6 L1778.8,823.2M1781.5,838.2 L1785.6,853.1M1791.0,869.4 L1795.1,881.7M1799.1,899.4 L1805.9,911.6M1818.2,922.5 L1824.0,920.5 L1830.4,914.3M1839.9,896.6 L1845.4,883.0M1849.4,866.7 L1856.2,854.5M1859.0,836.8 L1864.4,824.6M1868.5,808.3 L1873.9,794.7M1876.6,778.4 L1882.1,764.8M1884.8,748.5 L1890.2,734.9M1893.5,718.3 L1899.7,705.5M1902.5,688.2 L1907.9,676.0M1912.0,659.7 L1917.4,646.1M1921.5,629.7 L1926.9,616.2M1931.0,599.8 L1937.8,586.2M1941.9,571.3 L1948.7,557.7M1952.8,541.4 L1960.9,529.1M1965.0,514.2 L1973.2,502.0M1980.0,487.0 L1986.0,477.0" fill="none" stroke="#0000ff" stroke-width="5.6" stroke-linejoin="miter" stroke-linecap="butt" clip-path="url(#cb)"/>
<path d="M221.5,796.6 L238.5,768.1M258.5,739.4 L282.9,731.3M307.4,751.7 L323.7,776.2M336.6,802.8 L350.9,827.3M361.8,854.7 L381.0,875.5 L392.0,876.3 L401.0,873.8M415.5,847.2 L431.1,822.0M445.9,790.2 L462.8,763.5M485.3,746.9 L509.7,764.2M520.8,789.2 L532.3,819.8M541.2,855.5 L551.4,887.4M558.1,922.7 L571.8,965.8M588.3,968.0 L598.0,935.7M602.4,900.2 L610.0,868.3M612.6,832.6 L619.0,800.7M621.5,765.0 L627.9,731.9M632.5,696.4 L636.5,665.1M640.6,628.4 L646.1,597.1M648.8,560.4 L654.2,529.1M658.3,492.4 L665.1,461.2M670.5,423.1 L674.6,400.0M680.0,357.0 L685.5,325.7M692.3,289.0 L699.0,257.7M705.6,221.0 L712.5,192.0M726.5,154.0 L750.3,136.9 L768.7,159.4M775.1,182.5 L788.4,212.8M793.8,248.2 L803.3,280.8M807.4,316.2 L815.6,350.1M819.6,384.1 L825.1,416.7M829.1,453.0 L835.9,484.3M840.0,521.0 L845.5,552.3M849.5,589.0 L854.4,620.2M858.0,655.3 L864.1,689.0M868.7,724.1 L874.8,757.7M878.3,791.1 L887.8,825.0M894.4,861.3 L918.8,861.3M922.3,833.3 L934.3,800.5M933.5,792.3 L945.5,758.4M949.7,727.2 L962.0,693.5M973.5,658.0 L990.0,633.0" fill="none" stroke="#ff0080" stroke-width="5.8" stroke-linejoin="miter" stroke-linecap="butt" clip-path="url(#ca)"/>
<path d="M1117.0,481.5 L1128.1,460.9M1146.4,432.3 L1176.3,407.2M1211.7,399.0 L1241.6,415.3M1266.3,447.4 L1282.6,475.9M1297.6,509.9 L1311.2,541.2M1320.7,576.5 L1334.3,607.8M1343.2,642.3 L1353.7,673.6M1361.0,710.1 L1370.8,740.5M1379.2,777.4 L1389.8,806.8M1396.1,843.3 L1406.6,873.4M1417.1,909.1 L1430.4,937.2M1455.3,913.3 L1466.5,881.1M1473.5,844.7 L1483.4,813.8M1489.0,777.4 L1498.8,746.5M1504.4,710.1 L1512.3,679.2M1518.6,643.5 L1526.8,611.1M1533.6,574.4 L1541.8,544.5M1548.6,507.8 L1556.7,477.9M1564.9,441.2 L1573.3,410.0M1580.4,374.6 L1589.9,344.7M1599.4,308.0 L1610.3,276.7M1621.2,242.7 L1634.8,212.8M1648.4,180.2 L1667.4,155.7M1705.3,138.1 L1733.1,158.5M1751.2,191.1 L1768.8,222.3M1778.4,256.3 L1790.6,287.6M1800.1,323.0 L1811.0,354.2M1818.6,389.8 L1829.5,420.6M1834.5,455.7 L1845.4,489.7M1850.8,523.7 L1860.3,556.3M1865.8,591.7 L1876.6,624.3M1880.7,659.7 L1890.2,690.9M1895.7,725.3 L1905.2,759.3M1910.6,792.0 L1921.5,824.6M1926.9,859.9 L1939.2,892.6M1950.0,921.1 L1977.2,913.0" fill="none" stroke="#ff0080" stroke-width="5.8" stroke-linejoin="miter" stroke-linecap="butt" clip-path="url(#cb)"/>
<rect x="1115.2" y="791.5" width="2.8" height="10" fill="#0000ff"/>
<rect x="1115.2" y="910.7" width="2.8" height="6" fill="#300018"/>
<rect x="1115.2" y="916.7" width="2.8" height="4" fill="#ff0080"/>
</svg>
</body></html>
